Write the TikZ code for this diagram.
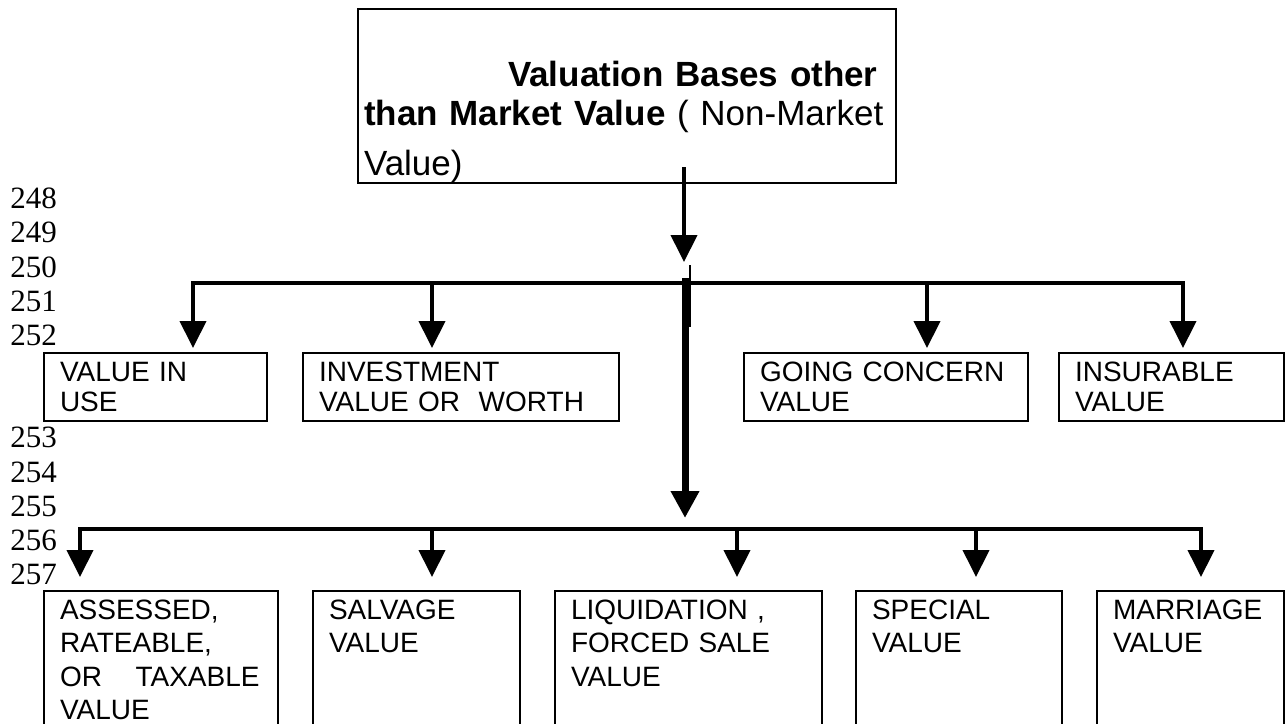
\documentclass[tikz,border=0pt]{standalone}
\usepackage{fontspec}
\setmainfont{Liberation Sans}
\newfontfamily\linenofont{Liberation Serif}
\usetikzlibrary{arrows.meta}

\tikzset{
  valbox/.style={draw,line width=1pt,anchor=north west,inner xsep=8pt,inner ysep=0pt,
                 align=left,text width=#1},
  toprow/.style={font=\fontsize{14}{15}\selectfont,text height=14pt,text depth=20pt},
  lowrow/.style={font=\fontsize{14}{16.8}\selectfont,text height=14pt,text depth=85pt},
  drop/.style={line width=2pt,-{Triangle[width=13pt,length=13.5pt]}},
  lineno/.style={anchor=base west,inner sep=0pt,font=\linenofont\fontsize{15.5}{17}\selectfont},
}

\begin{document}
\begin{tikzpicture}[x=0.5pt,y=-0.5pt]
  \useasboundingbox (0,0) rectangle (1288,723);
  \clip (0,0) rectangle (1288,723);
  \fill[white] (0,0) rectangle (1288,723);

  %% line numbers in the margin
  \foreach \n/\y in {248/208,249/242,250/277,251/311,252/345,
                     253/447,254/482,255/516,256/550,257/584}
    \node[lineno] (ln\n) at (10,\y) {\n};

  %% root box
  \node[valbox=263pt,inner xsep=3pt,font=\fontsize{17.5}{19.5}\selectfont,
        text height=38.5pt,text depth=48.5pt] (root) at (357,8)
    {\hspace*{72pt}\textbf{Valuation Bases other}\\
     \textbf{than Market Value} ( Non-Market\\[5.5pt]
     Value)};

  %% first row of bases
  \node[valbox=95.5pt,toprow] (inuse)  at (43,352)   {VALUE IN\\USE};
  \node[valbox=142pt,toprow]  (invest) at (302,352)  {INVESTMENT\\\mbox{VALUE OR\ \ WORTH}};
  \node[valbox=126pt,toprow]  (going)  at (743,352)  {GOING CONCERN\\VALUE};
  \node[valbox=96.5pt,toprow] (insure) at (1058,352) {INSURABLE\\VALUE};

  %% second row of bases
  \node[valbox=101pt,lowrow]   (assess)   at (43,590)   {ASSESSED,\\RATEABLE,\\\mbox{OR\hspace{1.2em}TAXABLE}\\VALUE};
  \node[valbox=87.5pt,lowrow]  (salvage)  at (312,590)  {SALVAGE\\VALUE};
  \node[valbox=117.5pt,lowrow] (liquid)   at (554,590)  {LIQUIDATION ,\\FORCED SALE\\VALUE};
  \node[valbox=87pt,lowrow]    (special)  at (855,590)  {SPECIAL\\VALUE};
  \node[valbox=77.5pt,lowrow]  (marriage) at (1096,590) {MARRIAGE\\VALUE};

  %% stem out of the root box
  \coordinate (stemtop) at (684,167);
  \coordinate (stemtip) at (684,262);
  \draw[drop] (stemtop) -- (stemtip);
  \coordinate (tickA) at (689.5,265);
  \coordinate (tickB) at (689.5,327);
  \draw[line width=1pt] (tickA) -- (tickB);

  %% first bus
  \coordinate (hubA) at (685,283);
  \coordinate (dropA1) at (193,283);
  \coordinate (dropA2) at (432,283);
  \coordinate (dropA3) at (927,283);
  \coordinate (dropA4) at (1183,283);
  \draw[drop,shorten >=2pt] (hubA) -- (dropA1) -- (dropA1 |- inuse.north);
  \draw[drop,shorten >=2pt] (hubA) -- (dropA4) -- (dropA4 |- insure.north);
  \draw[drop,shorten >=2pt] (dropA2) -- (dropA2 |- invest.north);
  \draw[drop,shorten >=2pt] (dropA3) -- (dropA3 |- going.north);

  %% heavy trunk down to the second bus
  \coordinate (trunktop) at (685,278);
  \coordinate (trunktip) at (685,518);
  \draw[line width=3.5pt,-{Triangle[width=13.5pt,length=13.5pt]}] (trunktop) -- (trunktip);

  %% second bus
  \coordinate (hubB) at (685,529);
  \coordinate (dropB1) at (80,529);
  \coordinate (dropB2) at (432,529);
  \coordinate (dropB3) at (737,529);
  \coordinate (dropB4) at (976,529);
  \coordinate (dropB5) at (1201,529);
  \draw[drop,shorten >=6.5pt] (hubB) -- (dropB1) -- (dropB1 |- assess.north);
  \draw[drop,shorten >=6.5pt] (hubB) -- (dropB5) -- (dropB5 |- marriage.north);
  \draw[drop,shorten >=6.5pt] (dropB2) -- (dropB2 |- salvage.north);
  \draw[drop,shorten >=6.5pt] (dropB3) -- (dropB3 |- liquid.north);
  \draw[drop,shorten >=6.5pt] (dropB4) -- (dropB4 |- special.north);
\end{tikzpicture}
\end{document}
